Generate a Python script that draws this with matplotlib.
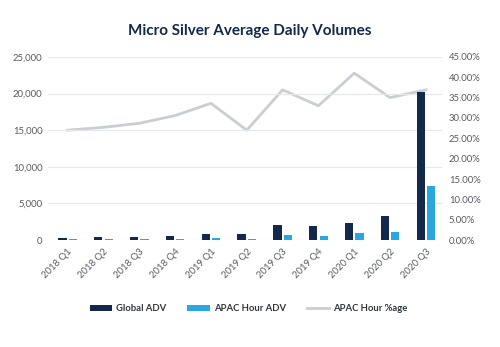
import matplotlib.pyplot as plt
import numpy as np
from matplotlib.ticker import FuncFormatter

plt.rcParams['font.family'] = ['Lato', 'DejaVu Sans']

quarters = ["2018 Q1", "2018 Q2", "2018 Q3", "2018 Q4", "2019 Q1", "2019 Q2",
            "2019 Q3", "2019 Q4", "2020 Q1", "2020 Q2", "2020 Q3"]
global_adv = [270, 400, 360, 540, 770, 770, 2090, 1860, 2320, 3270, 20230]
apac_adv = [140, 120, 120, 130, 320, 140, 680, 550, 910, 1140, 7400]
apac_pct = [0.270, 0.277, 0.287, 0.306, 0.336, 0.270, 0.369, 0.330, 0.410, 0.350, 0.369]

navy = "#13294b"
blue = "#29a8e0"
grey_line = "#c9ced2"
tick_col = "#555b63"

fig = plt.figure(figsize=(5, 3.47), dpi=100)
ax = fig.add_axes([0.096, 0.308, 0.788, 0.528])
ax2 = ax.twinx()

x = np.arange(len(quarters))
w = 0.23
ax.bar(x - 0.145, global_adv, width=w, color=navy, label="Global ADV", zorder=3)
ax.bar(x + 0.145, apac_adv, width=w, color=blue, label="APAC Hour ADV", zorder=3)
ax2.plot(x, apac_pct, color=grey_line, lw=2, label="APAC Hour %age", zorder=2)

ax.set_ylim(0, 25000)
ax.set_yticks(np.arange(0, 25001, 5000))
ax.yaxis.set_major_formatter(FuncFormatter(lambda v, p: f"{int(v):,}"))
ax2.set_ylim(0, 0.45)
ax2.set_yticks(np.arange(0, 0.4501, 0.05))
ax2.yaxis.set_major_formatter(FuncFormatter(lambda v, p: f"{v*100:.2f}%"))
ax.set_xlim(-0.55, 10.45)
ax.set_xticks(x)
ax.set_xticklabels(quarters, rotation=45, ha="right", rotation_mode="anchor")

ax.grid(axis="y", color="#e6e8ea", lw=0.9, zorder=0)
for a in (ax, ax2):
    for s in a.spines.values():
        s.set_visible(False)
    a.tick_params(length=0, labelsize=6.8, colors=tick_col)
ax.tick_params(axis="y", pad=4)
ax.tick_params(axis="x", pad=5)
ax2.tick_params(axis="y", pad=5)
ax2.set_zorder(ax.get_zorder() - 1)
ax.patch.set_visible(False)

fig.text(0.5, 0.912, "Micro Silver Average Daily Volumes", ha="center", va="center",
         fontsize=11, fontweight="bold", color=navy)

# legend row under the chart
h1, l1 = ax.get_legend_handles_labels()
h2, l2 = ax2.get_legend_handles_labels()
leg = fig.legend(h1 + h2, l1 + l2, loc="center", bbox_to_anchor=(0.497, 0.11), ncol=3,
                 frameon=False, fontsize=6.8, handlelength=2.4, handleheight=0.6,
                 handletextpad=0.4, columnspacing=2.2, labelcolor="#2e3540")
for t in leg.get_texts():
    t.set_fontweight("bold")

fig.savefig("out.png", dpi=100, facecolor="white")
